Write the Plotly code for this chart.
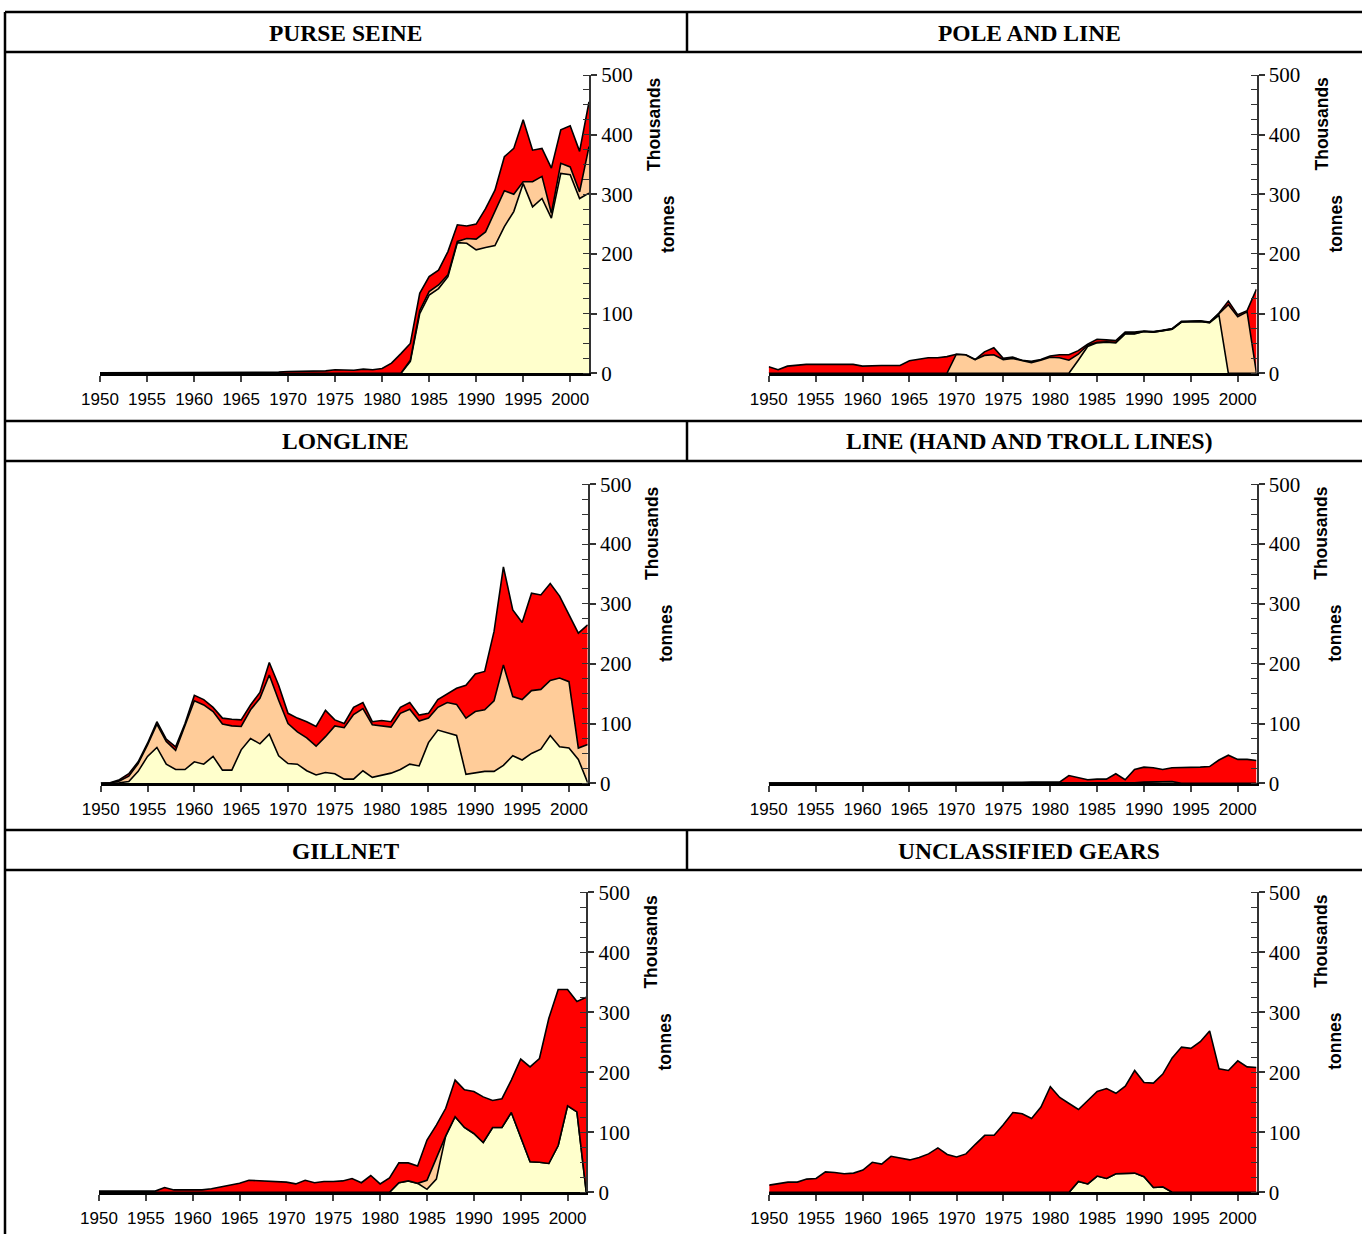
import plotly.graph_objects as go

W, H = 1362, 1234
YEARS = list(range(1950, 2003))

# ---------------- data (thousand tonnes) ----------------
purse_yellow = [0]*33 + [20, 100, 131, 142, 162, 219, 218, 207, 211, 214, 246, 271, 318, 279, 293, 260, 335, 333, 293, 302]
purse_orange = [0]*33 + [2, 5, 6, 6, 3, 2, 8, 18, 26, 57, 60, 29, 3, 42, 37, 8, 17, 13, 11, 78]
purse_red = [1]*16 + [2]*4 + [3, 3, 3, 3, 4, 6, 5, 5, 7, 6] + [8, 17, 33] + \
    [28, 29, 25, 25, 39, 28, 21, 25, 39, 36, 57, 77, 104, 53, 47, 76, 56, 69, 68, 75]

pole_yellow = [0]*33 + [22, 45, 51, 52, 51, 66, 66, 70, 69, 71, 74, 86, 87, 87, 85, 97, 0, 0, 0, 0]
pole_orange = [0]*20 + [32, 31, 23, 30, 31, 23, 25, 21, 18, 22, 27, 26, 22] + \
    [10, 2, 1, 1, 1, 1, 1, 0, 0, 0, 0, 0, 0, 0, 0, 3, 115, 95, 103, 0]
pole_red = [11, 6, 12, 14, 15, 15, 15, 15, 15, 15, 12, 13, 13, 13, 13, 21, 24, 26, 26, 28] + \
    [0, 0, 0, 6, 12, 2, 2, 1, 2, 1, 2, 5, 9] + \
    [6, 2, 5, 3, 3, 2, 2, 1, 1, 1, 1, 1, 1, 1, 1, 1, 6, 3, 2, 141]

long_yellow = [0, 0, 1, 3, 20, 45, 60, 32, 23, 23, 36, 32, 45, 22, 22, 56, 75, 66, 82, 46,
               33, 32, 21, 14, 18, 16, 7, 7, 21, 10, 13, 17, 23, 32, 29, 68, 89, 84, 80, 15,
               18, 20, 20, 30, 46, 39, 50, 57, 80, 61, 59, 40, 1]
long_orange = [0, 0.5, 3, 9, 13, 19, 39, 38, 32, 73, 102, 99, 75, 77, 74, 39, 48, 76, 99, 93,
               67, 54, 55, 48, 60, 80, 86, 108, 104, 88, 83, 77, 94, 92, 75, 41, 38, 51, 52, 94,
               102, 103, 118, 168, 99, 101, 105, 100, 92, 115, 111, 19, 64]
long_red = [0, 0.5, 2, 4, 3, 3, 4, 4, 6, 4, 9, 9, 7, 10, 11, 11, 8, 10, 21, 25,
            17, 23, 27, 33, 44, 10, 7, 12, 10, 5, 9, 9, 10, 11, 10, 8, 13, 15, 27, 55,
            63, 64, 116, 164, 145, 129, 163, 158, 162, 137, 111, 192, 200]

line_yellow = [0]*20 + [1]*20 + [2, 2, 2, 3] + [0]*9
line_orange = [0]*53
line_red = [0.5]*19 + [1] + [0, 0, 0, 0.5, 0.5, 0.5, 0.5, 0.5, 1, 1] + \
    [1, 1, 12, 9, 5, 6, 6, 15, 5, 22] + [25, 24, 21, 23] + [26, 26, 27, 28, 39, 47, 40, 40, 38]

gill_yellow = [0]*32 + [16, 19, 15, 5, 22, 94, 126, 108, 98, 83, 108, 108, 133, 93, 51, 50, 48, 78, 144, 134, 0]
gill_orange = [0]*35 + [15, 35] + [0]*16
gill_red = [2, 2, 2, 3, 3, 3, 2, 8, 4, 4, 4, 4, 6, 9, 13, 15, 20, 19, 19, 18,
            17, 14, 20, 16, 18, 18, 19, 23, 16, 28, 14, 24] + \
    [33, 30, 29, 67, 55, 46, 61, 63, 70, 76, 45, 48, 54, 129, 158, 173, 242, 260, 194, 184, 325]

uncl_yellow = [0]*33 + [18, 14, 27, 23, 31, 31, 32, 26, 8, 9] + [0]*10
uncl_orange = [0]*53
uncl_red = [12, 14, 17, 17, 22, 23, 34, 33, 31, 32, 37, 50, 47, 60, 57, 54, 58, 64, 74, 63,
            59, 64, 80, 95, 95, 113, 133, 131, 123, 142, 176, 158, 148] + \
    [120, 139, 141, 150, 134, 146, 171, 157, 174, 188] + \
    [224, 242, 240, 251, 269, 206, 203, 219, 209, 208]

TITLES = ["PURSE SEINE", "POLE AND LINE", "LONGLINE", "LINE (HAND AND TROLL LINES)",
          "GILLNET", "UNCLASSIFIED GEARS"]
SERIES = [
    (purse_yellow, purse_orange, purse_red),
    (pole_yellow, pole_orange, pole_red),
    (long_yellow, long_orange, long_red),
    (line_yellow, line_orange, line_red),
    (gill_yellow, gill_orange, gill_red),
    (uncl_yellow, uncl_orange, uncl_red),
]
SERIES_NAMES = ["Species A", "Species B", "Other species"]
Y_TICKS = [0, 100, 200, 300, 400, 500]
X_TICKS = list(range(1950, 2001, 5))

# ---------------- layout geometry (pixels) ----------------
# x of 1950, x of 2002, y of 0, y of 500
PANELS = [
    (100.0, 589.0, 373.3, 75.0),
    (768.7, 1256.5, 373.3, 75.0),
    (100.7, 587.7, 783.3, 484.3),
    (768.7, 1256.5, 783.3, 484.3),
    (99.0, 586.3, 1192.3, 892.3),
    (769.2, 1256.5, 1192.3, 892.3),
]
COLORS = ["#FFFFCC", "#FFCC99", "#FF0000"]


def fx(px):
    return px / W


def fy(py):
    return 1 - py / H


fig = go.Figure()
layout = dict(
    width=W, height=H, margin=dict(l=0, r=0, t=0, b=0, pad=0, autoexpand=False),
    paper_bgcolor="white", plot_bgcolor="rgba(0,0,0,0)", showlegend=False,
)

annotations = []
shapes = []

for i, ((x0, x1, yb, yt), data) in enumerate(zip(PANELS, SERIES), start=1):
    xa = "x" if i == 1 else f"x{i}"
    ya = "y" if i == 1 else f"y{i}"
    for vals, col, nm in zip(data, COLORS, SERIES_NAMES):
        fig.add_trace(go.Scatter(
            x=YEARS, y=vals, xaxis=xa, yaxis=ya, name=nm,
            mode="lines", stackgroup=f"g{i}", fillcolor=col,
            line=dict(color="black", width=1.6),
        ))
    sfx = "" if i == 1 else str(i)
    layout[f"xaxis{sfx}"] = dict(
        domain=[fx(x0), fx(x1)], anchor=ya, range=[1950, 2002], automargin=False,
        tickvals=X_TICKS, ticks="outside", ticklen=6, tickwidth=1.5, tickcolor="#444",
        ticklabelstandoff=3,
        showline=True, linecolor="black", linewidth=2.5, showgrid=False, zeroline=False,
        tickfont=dict(family="Liberation Sans, Arial", size=17, color="black"),
    )
    layout[f"yaxis{sfx}"] = dict(
        domain=[fy(yb), fy(yt)], anchor=xa, side="right", range=[0, 500], automargin=False,
        tickvals=Y_TICKS, ticks="outside", ticklen=6, tickwidth=1.5, tickcolor="#333",
        minor=dict(dtick=25, ticks="inside", ticklen=6, tickwidth=1.2, tickcolor="#333"),
        showline=True, linecolor="#333", linewidth=2, showgrid=False, zeroline=False,
        tickfont=dict(family="Liberation Serif, Times New Roman", size=21, color="black"),
    )
    ax_px = x1
    annotations.append(dict(
        text="<b>Thousands</b>", x=fx(ax_px + 65), y=fy(yt + 49), xref="paper", yref="paper",
        textangle=-90, showarrow=False, xanchor="center", yanchor="middle",
        font=dict(family="Liberation Sans, Arial", size=17.5, color="black"),
    ))
    annotations.append(dict(
        text="<b>tonnes</b>", x=fx(ax_px + 79), y=fy(yt + 149), xref="paper", yref="paper",
        textangle=-90, showarrow=False, xanchor="center", yanchor="middle",
        font=dict(family="Liberation Sans, Arial", size=17.5, color="black"),
    ))

# header titles
HEADER_Y = [33, 441, 851]
COL_X = [345.5, 1029]
for k, t in enumerate(TITLES):
    annotations.append(dict(
        text=f"<b>{t}</b>", x=fx(COL_X[k % 2]), y=fy(HEADER_Y[k // 2]),
        xref="paper", yref="paper", showarrow=False, xanchor="center", yanchor="middle",
        font=dict(family="Liberation Serif, Times New Roman", size=23.5, color="black"),
    ))

# table grid lines
LW = 2.5
for yy in [12, 52, 421, 461, 830, 870]:
    shapes.append(dict(type="line", xref="paper", yref="paper",
                       x0=fx(5), x1=1.01, y0=fy(yy), y1=fy(yy),
                       line=dict(color="black", width=LW)))
shapes.append(dict(type="line", xref="paper", yref="paper",
                   x0=fx(5), x1=fx(5), y0=fy(12), y1=-0.01,
                   line=dict(color="black", width=LW)))
for (a, b) in [(12, 52), (421, 461), (830, 870)]:
    shapes.append(dict(type="line", xref="paper", yref="paper",
                       x0=fx(687), x1=fx(687), y0=fy(a), y1=fy(b),
                       line=dict(color="black", width=LW)))

layout["annotations"] = annotations
layout["shapes"] = shapes
fig.update_layout(**layout)
fig.write_html(
    "out.html",
    config={"displayModeBar": False},
    post_script="document.body.style.margin='0';document.body.style.overflow='hidden';",
)
